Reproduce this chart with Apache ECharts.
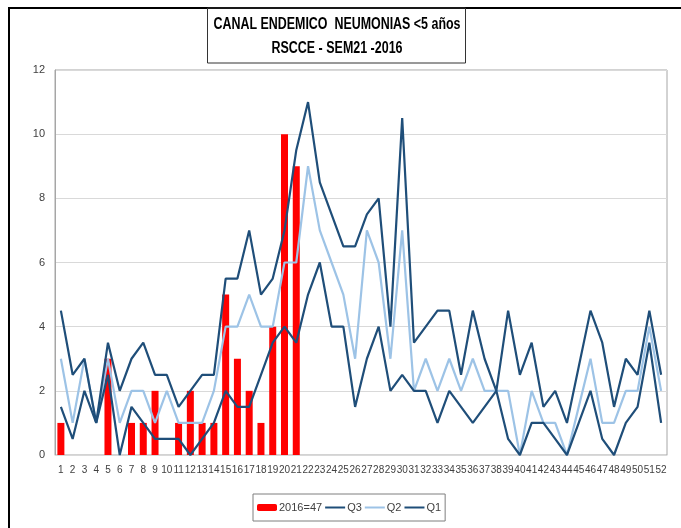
<!DOCTYPE html>
<html>
<head>
<meta charset="utf-8">
<script src="https://cdn.jsdelivr.net/npm/echarts@6/dist/echarts.min.js"></script>
<style>
html,body{margin:0;padding:0;background:#fff;}
#c{width:681px;height:528px;}
</style>
</head>
<body>
<div id="c"></div>
<script>
var weeks = [];
for (var i = 1; i <= 52; i++) weeks.push(String(i));

var titleLine1 = 'CANAL ENDEMICO  NEUMONIAS <5 años';
var titleLine2 = 'RSCCE - SEM21 -2016';

var cases2016 = [1,0,0,0,3,0,1,1,2,0,1,2,1,1,5,3,2,1,4,10,9];

var q3 = [4.5,2.5,3,1,3.5,2,3,3.5,2.5,2.5,
          1.5,2,2.5,2.5,5.5,5.5,7,5,5.5,7,
          9.5,11,8.5,7.5,6.5,6.5,7.5,8,4,10.5,
          3.5,4,4.5,4.5,2.5,4.5,3,2,4.5,2.5,
          3.5,1.5,2,1,2.75,4.5,3.5,1.5,3,2.5,
          4.5,2.5];
var q2 = [3,1,3,1,3,1,2,2,1,2,
          1,1,1,2,4,4,5,4,4,6,
          6,9,7,6,5,3,7,6,3,7,
          2,3,2,3,2,3,2,2,2,0,
          2,1,1,0,1.5,3,1,1,2,2,
          4,2];
var q1 = [1.5,0.5,2,1,2.5,0,1.5,1,0.5,0.5,
          0.5,0,0.5,1,2,1.5,1.5,2.5,3.5,4,
          3.5,5,6,4,4,1.5,3,4,2,2.5,
          2,2,1,2,1.5,1,1.5,2,0.5,0,
          1,1,0.5,0,1,2,0.5,0,1,1.5,
          3.5,1];

var yTicks = {min: 0, max: 12, interval: 2};

var FONT = "'Liberation Sans Narrow', 'Liberation Sans', sans-serif";
var TFONT = "bold 16px 'Liberation Sans', sans-serif";
var DARK = '#1f4e79';
var LIGHT = '#9dc3e6';

function measure(txt, font) {
  var cv = document.createElement('canvas');
  var ctx = cv.getContext('2d');
  ctx.font = font;
  return ctx.measureText(txt).width;
}
var sx1 = 247 / measure(titleLine1, TFONT);
var sx2 = 131 / measure(titleLine2, TFONT);

var chart = echarts.init(document.getElementById('c'), null, {renderer: 'canvas'});
chart.setOption({
  animation: false,
  backgroundColor: '#fff',
  textStyle: {fontFamily: FONT},
  grid: {left: 55, right: 14, top: 70, bottom: 73, show: true, borderColor: '#a6a6a6', borderWidth: 1},
  graphic: [
    {type: 'polyline', shape: {points: [[9, 540], [9, 8], [690, 8]]}, style: {stroke: '#000', lineWidth: 2, fill: null}},
    {type: 'rect', shape: {x: 207.5, y: 8, width: 258, height: 55}, style: {stroke: '#333', lineWidth: 1, fill: null}},
    {type: 'text', x: 337, y: 25, scaleX: sx1, style: {text: titleLine1, font: TFONT, textAlign: 'center', textVerticalAlign: 'middle', fill: '#000'}},
    {type: 'text', x: 337, y: 49, scaleX: sx2, style: {text: titleLine2, font: TFONT, textAlign: 'center', textVerticalAlign: 'middle', fill: '#000'}}
  ],
  legend: {
    left: 253, top: 494,
    padding: [8, 4],
    itemGap: 2,
    itemWidth: 20, itemHeight: 7,
    borderColor: '#7f7f7f', borderWidth: 1,
    textStyle: {fontSize: 11, color: '#404040', fontFamily: FONT, padding: [0, 0, 0, -3]},
    data: [
      {name: '2016=47'},
      {name: 'Q3', itemStyle: {opacity: 0}},
      {name: 'Q2', itemStyle: {opacity: 0}},
      {name: 'Q1', itemStyle: {opacity: 0}}
    ]
  },
  xAxis: {
    type: 'category',
    data: weeks,
    boundaryGap: true,
    axisLine: {show: true, lineStyle: {color: '#d9d9d9'}},
    axisTick: {show: false},
    axisLabel: {interval: 0, margin: 10, fontSize: 10, color: '#404040', fontFamily: FONT, hideOverlap: false}
  },
  yAxis: {
    type: 'value',
    min: yTicks.min, max: yTicks.max, interval: yTicks.interval,
    axisLine: {show: true, lineStyle: {color: '#a6a6a6'}},
    axisTick: {show: false},
    axisLabel: {margin: 10, fontSize: 11, color: '#404040', fontFamily: FONT},
    splitLine: {show: true, lineStyle: {color: '#d9d9d9'}}
  },
  series: [
    {name: '2016=47', type: 'bar', data: cases2016, barWidth: 7, itemStyle: {color: '#ff0000'}, z: 1},
    {name: 'Q3', type: 'line', data: q3, symbol: 'none', lineStyle: {color: DARK, width: 2.2}, itemStyle: {color: DARK}, z: 3},
    {name: 'Q2', type: 'line', data: q2, symbol: 'none', lineStyle: {color: LIGHT, width: 2.2}, itemStyle: {color: LIGHT}, z: 2},
    {name: 'Q1', type: 'line', data: q1, symbol: 'none', lineStyle: {color: DARK, width: 2.2}, itemStyle: {color: DARK}, z: 3}
  ]
});
</script>
</body>
</html>
